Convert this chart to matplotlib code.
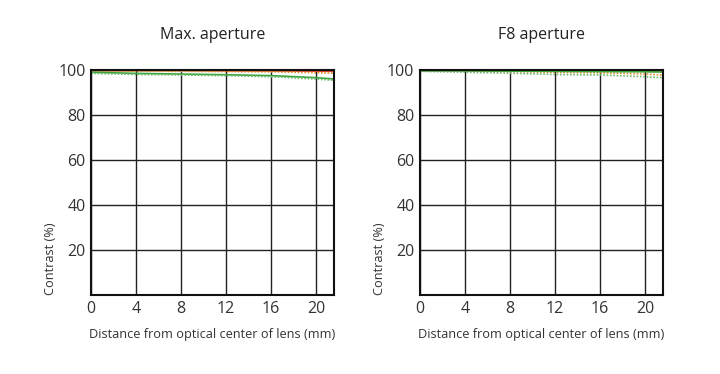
import matplotlib
matplotlib.use("Agg")
import matplotlib.pyplot as plt

plt.rcParams["font.family"] = ["Open Sans", "DejaVu Sans"]

titles = ["Max. aperture", "F8 aperture"]
dist = [0, 4, 8, 12, 16, 20, 21.6]
# left chart
max_red_s = [99.8, 99.8, 99.8, 99.7, 99.6, 99.5, 99.4]
max_red_d = [99.5, 99.5, 99.4, 99.3, 99.2, 98.8, 98.6]
max_grn_s = [99.0, 98.5, 98.2, 97.9, 97.5, 96.6, 96.0]
max_grn_d = [98.5, 98.0, 97.8, 97.5, 97.0, 96.0, 95.4]
# right chart
f8_red_s = [99.8, 99.8, 99.8, 99.8, 99.7, 99.6, 99.6]
f8_red_d = [99.6, 99.5, 99.3, 99.0, 98.8, 98.2, 97.8]
f8_grn_s = [99.6, 99.6, 99.5, 99.4, 99.3, 99.2, 99.1]
f8_grn_d = [99.4, 99.0, 98.6, 98.0, 97.8, 97.0, 96.6]

xticks = [0, 4, 8, 12, 16, 20]
yticks = [20, 40, 60, 80, 100]

series = [
    (max_red_s, max_red_d, max_grn_s, max_grn_d),
    (f8_red_s, f8_red_d, f8_grn_s, f8_grn_d),
]

fig = plt.figure(figsize=(7.2, 3.74), dpi=100)
lefts = [0.1264, 0.5833]
txt = "#333333"
for i in range(2):
    ax = fig.add_axes([lefts[i], 0.2112, 0.3375, 0.6016])
    rs, rd, gs, gd = series[i]
    ax.plot(dist, rs, color="#d9442b", lw=1.2, ls="-")
    ax.plot(dist, rd, color="#e0902a", lw=1.2, ls=(0, (1, 1)))
    ax.plot(dist, gs, color="#3aa33a", lw=1.2, ls="-")
    ax.plot(dist, gd, color="#6fb86f", lw=1.2, ls=(0, (1, 1)))
    ax.set_xlim(0, 21.6)
    ax.set_ylim(0, 100)
    ax.set_xticks(xticks)
    ax.set_yticks(yticks)
    ax.grid(True, color="#222222", lw=1.0)
    ax.set_axisbelow(True)
    ax.tick_params(length=0, labelsize=11.5, labelcolor=txt, pad=4)
    for s in ax.spines.values():
        s.set_color("#111111")
        s.set_linewidth(1.5)
    ax.set_title(titles[i], fontsize=11.5, color="#222222", pad=22)
    ax.set_xlabel("Distance from optical center of lens (mm)", fontsize=9.2, color=txt, labelpad=8)
    ax.set_ylabel("Contrast (%)", fontsize=9.2, color=txt, labelpad=5)
    ax.yaxis.set_label_coords(-0.14, 0.0, transform=ax.transAxes)
    ax.yaxis.label.set_va("bottom")
    ax.yaxis.label.set_ha("left")

fig.savefig("out.png", dpi=100)
